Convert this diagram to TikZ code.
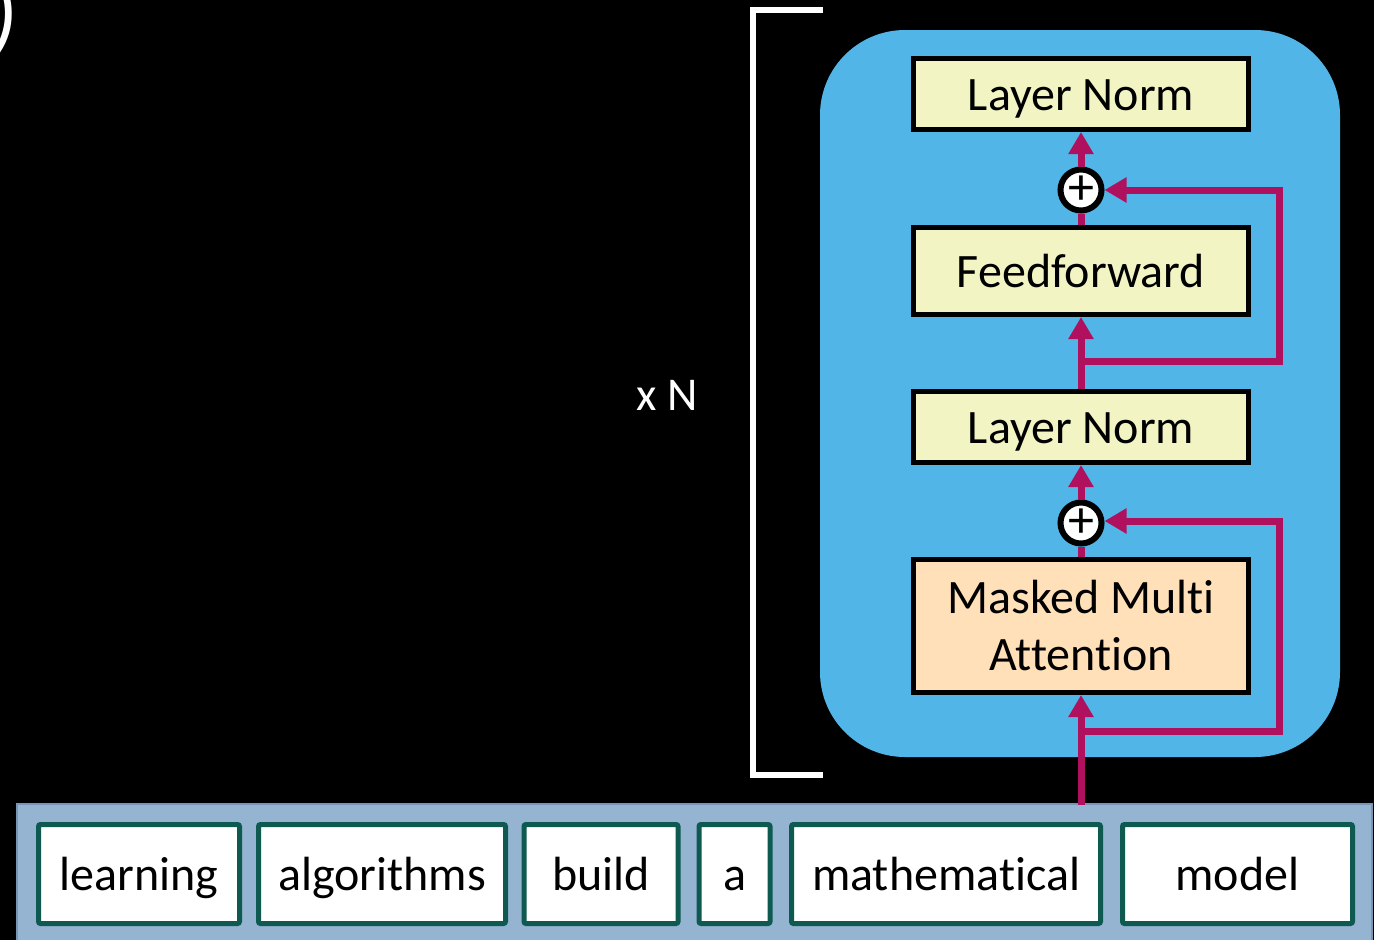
\documentclass[tikz,border=0pt]{standalone}
\usepackage{fontspec}
\setmainfont{Carlito}[Ligatures=NoCommon]
\usetikzlibrary{arrows.meta}
\definecolor{blockblue}{RGB}{82,181,231}
\definecolor{normyellow}{RGB}{242,244,196}
\definecolor{attnpeach}{RGB}{255,224,184}
\definecolor{flowred}{RGB}{176,17,95}
\definecolor{barblue}{RGB}{148,180,210}
\definecolor{baredge}{RGB}{120,150,180}
\definecolor{tokgreen}{RGB}{14,90,80}
\tikzset{
  layerbox/.style={draw=black, line width=5pt, inner sep=0pt,
    minimum width=335pt, align=center,
    font=\fontsize{48}{57}\selectfont},
  oneline/.style={text height=33pt, text depth=0pt},
  addnode/.style={circle, draw=black, line width=6pt, fill=white,
    minimum size=41pt, inner sep=0pt,
    font=\fontsize{52}{52}\selectfont},
  flow/.style={draw=flowred, line width=7pt},
  flowarrow/.style={flow, -{Triangle[length=22pt,width=24pt]}},
  token/.style={draw=tokgreen, fill=white, line width=5pt,
    rounded corners=2pt, inner sep=0pt, minimum height=99pt,
    text height=32pt, text depth=0pt,
    font=\fontsize{48}{48}\selectfont},
}
\begin{document}
\begin{tikzpicture}[x=1pt,y=-1pt]
  % page
  \fill[black] (0,0) rectangle (1374,940);
  \useasboundingbox (0,0) rectangle (1374,940);

  % fragment of a closing parenthesis at the top left corner
  \node[white, anchor=base, inner sep=0pt, font=\fontsize{90}{90}\selectfont]
    (paren) at (5,40) {)};

  % repetition bracket
  \coordinate (brtop) at (823,10);
  \coordinate (brbot) at (823,775);
  \draw[white, line width=6pt] (brtop) -- (753,10) -- (753,775) -- (brbot);
  \node[white, font=\fontsize{47}{47}\selectfont] (times) at (667,395) {x N};

  % decoder block background
  \fill[blockblue, rounded corners=85pt] (820,30) rectangle (1340,757);

  % layers
  \node[layerbox, oneline, fill=normyellow, minimum height=71pt] (ln1) at (1081,94) {Layer Norm};
  \node[addnode] (add1) at (1081,190) {+};
  \node[layerbox, oneline, fill=normyellow, minimum height=87pt] (ff) at (1081,271) {Feedforward};
  \node[layerbox, oneline, fill=normyellow, minimum height=71pt] (ln2) at (1081,427) {Layer Norm};
  \node[addnode] (add2) at (1081,523) {+};
  \node[layerbox, fill=attnpeach, minimum height=133pt] (mma) at (1081,626) {Masked Multi\\Attention};

  % token bar
  \draw[baredge, fill=barblue, line width=2pt] (17,804) rectangle (1372,950);
  \node[token, minimum width=201pt] (t1) at (139,874) {learning};
  \node[token, minimum width=247pt] (t2) at (382,874) {algorithms};
  \node[token, minimum width=154pt] (t3) at (601,874) {build};
  \node[token, minimum width=71pt]  (t4) at (734.5,874) {a};
  \node[token, minimum width=309pt] (t5) at (946,874) {mathematical};
  \node[token, minimum width=230pt] (t6) at (1237.5,874) {model};

  % data flow
  \coordinate (in) at (1081,805);
  \coordinate (br2) at (1081,731);
  \coordinate (br2r) at (1279,731);
  \coordinate (add2r) at (1279,521);
  \coordinate (br1) at (1081,361);
  \coordinate (br1r) at (1279,361);
  \coordinate (add1r) at (1279,190);

  \draw[flowarrow] (in) -- (mma.south);
  \draw[flow, line cap=rect] (br2) -- (br2r) -- (add2r);
  \draw[flowarrow] (add2r) -- (add2.east |- add2r);
  \draw[flow] (mma.north) -- (add2.south);
  \draw[flowarrow] (add2.north) -- (ln2.south);

  \draw[flowarrow] (ln2.north) -- (ff.south);
  \draw[flow, line cap=rect] (br1) -- (br1r) -- (add1r);
  \draw[flowarrow] (add1r) -- (add1.east);
  \draw[flow] (ff.north) -- (add1.south);
  \draw[flowarrow] (add1.north) -- (ln1.south);
\end{tikzpicture}
\end{document}
